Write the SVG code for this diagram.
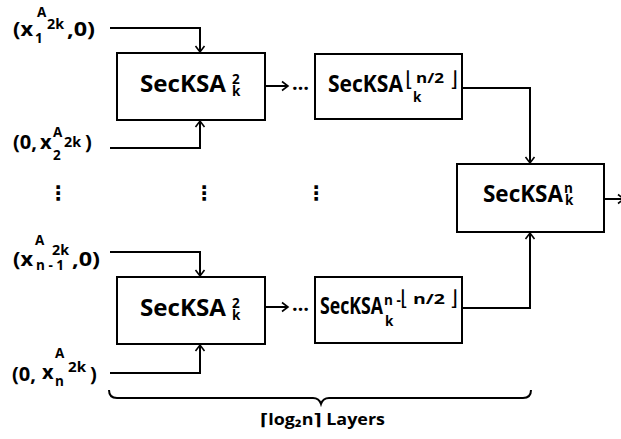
<svg xmlns="http://www.w3.org/2000/svg" width="621" height="439" viewBox="0 0 621 439">
<style>
.box{fill:#fff;stroke:#000;stroke-width:2}
.ln{fill:none;stroke:#000;stroke-width:2}
text{font-family:"Open Sans","DejaVu Sans",sans-serif;font-weight:bold;fill:#000}
.m{font-size:20px}
.s{font-size:13.5px}
.f{font-size:15px}
.t{font-size:23px}
.b{font-family:"DejaVu Sans",sans-serif;font-weight:normal;font-size:21px}
</style>
<defs>
<marker id="ah" viewBox="-8 -6 10 12" refX="0" refY="0" markerWidth="10" markerHeight="12" markerUnits="userSpaceOnUse" orient="auto">
<path d="M-6,-4.5 L0,0 L-6,4.5" fill="none" stroke="#000" stroke-width="1.6"/>
</marker>
</defs>
<rect width="621" height="439" fill="#fff"/>
<g id="connectors">
<path class="ln" d="M110,28 H200 V52" marker-end="url(#ah)"/>
<path class="ln" d="M110,148 H200 V121" marker-end="url(#ah)"/>
<path class="ln" d="M265,86 H288" marker-end="url(#ah)"/>
<path class="ln" d="M462,88 H530 V163" marker-end="url(#ah)"/>
<path class="ln" d="M604,199 H624" marker-end="url(#ah)"/>
<path class="ln" d="M110,252 H200 V276" marker-end="url(#ah)"/>
<path class="ln" d="M110,373 H200 V345" marker-end="url(#ah)"/>
<path class="ln" d="M265,307 H288" marker-end="url(#ah)"/>
<path class="ln" d="M462,308 H530 V233" marker-end="url(#ah)"/>
<text class="m" x="292" y="90" textLength="17" lengthAdjust="spacingAndGlyphs">…</text>
<text class="m" x="292" y="311" textLength="17" lengthAdjust="spacingAndGlyphs">…</text>
</g>
<g id="in1">
<text class="m" x="13" y="36" textLength="20" lengthAdjust="spacingAndGlyphs">(x</text>
<text class="s" x="37" y="17">A</text>
<text class="s" x="35" y="43">1</text>
<text class="s" x="47" y="29" textLength="17" lengthAdjust="spacingAndGlyphs">2k</text>
<text class="m" x="67" y="36" textLength="28" lengthAdjust="spacingAndGlyphs">,0)</text>
</g>
<g id="in2">
<text class="m" x="13" y="149" textLength="24" lengthAdjust="spacingAndGlyphs">(0,</text>
<text class="m" x="40" y="149">x</text>
<text class="s" x="53" y="137">A</text>
<text class="s" x="53" y="160">2</text>
<text class="s" x="64" y="147" textLength="17" lengthAdjust="spacingAndGlyphs">2k</text>
<text class="m" x="85" y="149">)</text>
</g>
<g id="in3">
<text class="m" x="13" y="266" textLength="20" lengthAdjust="spacingAndGlyphs">(x</text>
<text class="s" x="35" y="245">A</text>
<text class="s" x="36" y="270" xml:space="preserve">n - 1</text>
<text class="s" x="52" y="255" textLength="17" lengthAdjust="spacingAndGlyphs">2k</text>
<text class="m" x="72" y="266" textLength="28" lengthAdjust="spacingAndGlyphs">,0)</text>
</g>
<g id="in4">
<text class="m" x="12" y="381" textLength="24" lengthAdjust="spacingAndGlyphs">(0,</text>
<text class="m" x="42" y="379">x</text>
<text class="s" x="55" y="358">A</text>
<text class="s" x="55" y="386">n</text>
<text class="s" x="68" y="372" textLength="18" lengthAdjust="spacingAndGlyphs">2k</text>
<text class="m" x="90" y="381">)</text>
</g>
<g id="vdots">
<text class="m" x="58" y="200" text-anchor="middle">⋮</text>
<text class="m" x="204" y="200" text-anchor="middle">⋮</text>
<text class="m" x="316" y="200" text-anchor="middle">⋮</text>
</g>
<g id="box1">
<rect class="box" x="117" y="53" width="148" height="67"/>
<text class="t" x="140" y="92" textLength="86" lengthAdjust="spacingAndGlyphs">SecKSA</text>
<text class="s" x="232" y="84">2</text>
<text class="s" x="232" y="96">k</text>
</g>
<g id="box2">
<rect class="box" x="315" y="54" width="147" height="65"/>
<text class="t" x="328" y="92" textLength="75" lengthAdjust="spacingAndGlyphs">SecKSA</text>
<text class="b" x="405" y="86">⌊</text>
<text class="f" x="416" y="83" textLength="28" lengthAdjust="spacingAndGlyphs">n/2</text>
<text class="b" x="450" y="86">⌋</text>
<text class="s" x="413" y="102">k</text>
</g>
<g id="box3">
<rect class="box" x="457" y="164" width="147" height="68"/>
<text class="t" x="483" y="202" textLength="80" lengthAdjust="spacingAndGlyphs">SecKSA</text>
<text class="s" x="564" y="193">n</text>
<text class="s" x="565" y="205">k</text>
</g>
<g id="box4">
<rect class="box" x="117" y="277" width="148" height="67"/>
<text class="t" x="140" y="316" textLength="86" lengthAdjust="spacingAndGlyphs">SecKSA</text>
<text class="s" x="232" y="308">2</text>
<text class="s" x="232" y="320">k</text>
</g>
<g id="box5">
<rect class="box" x="315" y="277" width="147" height="66"/>
<text class="t" x="320" y="314" textLength="63" lengthAdjust="spacingAndGlyphs">SecKSA</text>
<text class="s" x="384" y="305" xml:space="preserve">n -</text>
<text class="b" x="400" y="305">⌊</text>
<text class="f" x="413" y="304" textLength="32" lengthAdjust="spacingAndGlyphs">n/2</text>
<text class="b" x="450" y="305">⌋</text>
<text class="s" x="385" y="326">k</text>
</g>
<g id="brace">
<path class="ln" d="M109,390 Q109,398 117,398 H313 Q319,398 321,404 Q323,398 329,398 H523 Q531,398 531,390"/>
<text style="font-size:16px" x="260" y="425" textLength="125" lengthAdjust="spacingAndGlyphs">⌈log₂n⌉ Layers</text>
</g>
</svg>
